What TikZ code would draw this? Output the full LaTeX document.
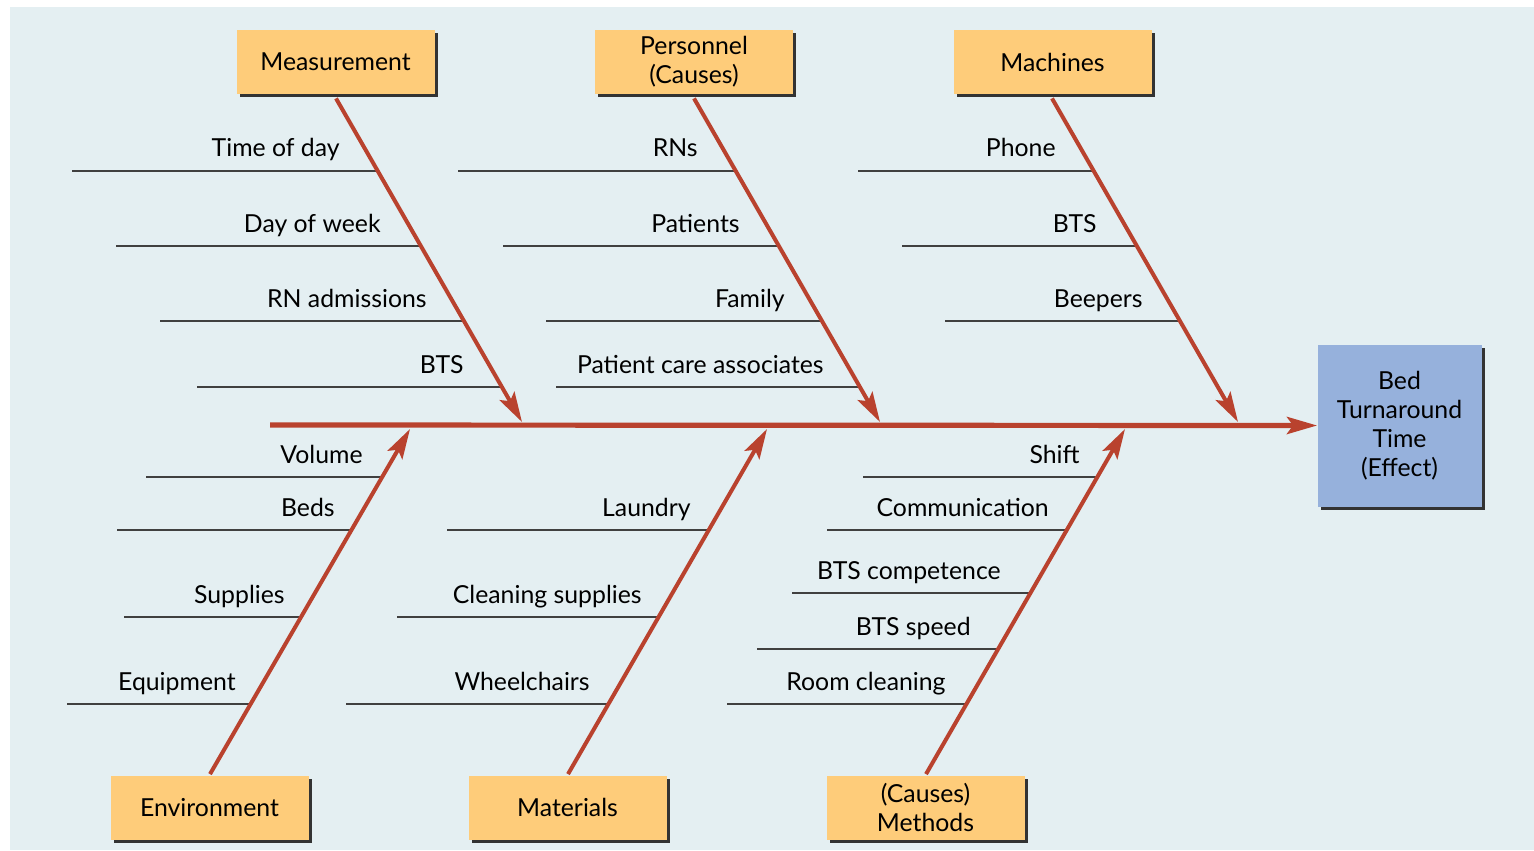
\documentclass[tikz,border=0pt]{standalone}
\usepackage{fontspec}
\setmainfont{Lato}
\usepackage{tikz}
\usetikzlibrary{arrows.meta,shadows,calc}
\definecolor{bgblue}{RGB}{228,239,242}
\definecolor{causefill}{RGB}{254,204,122}
\definecolor{effectfill}{RGB}{150,177,220}
\definecolor{bonered}{RGB}{185,66,46}
\tikzset{ % boxes, bones and twigs
    cause/.style={rectangle, fill=causefill, align=center, minimum width=99pt, minimum height=32pt, inner sep=0pt, font=\fontsize{12.4}{14.5}\selectfont, general shadow={fill=black!80, shadow xshift=1.5pt, shadow yshift=-1.5pt}},
    effect/.style={cause, fill=effectfill, minimum width=82pt, minimum height=81pt},
    bone/.style={draw=bonered, line width=2pt, -{Stealth[length=15pt,width=8.5pt,inset=3pt]}},
    spine/.style={bone, line width=2.6pt},
    twig/.style={draw=black!75, line width=0.7pt},
    lbl/.style={anchor=base east, inner sep=0pt, font=\fontsize{12.4}{14}\selectfont}
}
\begin{document}
\begin{tikzpicture}[x=0.5pt, y=-0.5pt]
	\useasboundingbox (0,0) rectangle (1534,850);
	\fill[bgblue] (10,7) rectangle (1534,850);
	%Twigs
	\foreach \nm/\y/\xa/\xb/\xt/\txt in {
		m1/171/72/378/340/Time of day,
		m2/246/116/421/381/Day of week,
		m3/321/160/464/427/RN admissions,
		m4/387/197/502/464/BTS,
		p1/171/458/736/698/RNs,
		p2/246/503/779/740/Patients,
		p3/321/546/822/785/Family,
		p4/387/556/860/824/Patient care associates,
		c1/171/858/1094/1056/Phone,
		c2/246/902/1137/1097/BTS,
		c3/321/945/1180/1143/Beepers,
		e1/477/146/383/363/Volume,
		e2/530/117/352/335/Beds,
		e3/617/124/302/285/Supplies,
		e4/704/67/251/236/Equipment,
		a1/530/447/709/691/Laundry,
		a2/617/397/659/642/Cleaning supplies,
		a3/704/346/608/590/Wheelchairs,
		d1/477/863/1098/1080/Shift,
		d2/530/827/1067/1049/Communication,
		d3/593/792/1031/1001/BTS competence,
		d4/649/757/998/971/BTS speed,
		d5/704/727/966/946/Room cleaning}
	{
		\coordinate (\nm a) at (\xa,\y);
		\coordinate (\nm b) at (\xb,\y);
		\draw[twig] (\nm a) -- (\nm b);
		\node[lbl] (\nm) at (\xt,\y-14) {\txt};
	}
	%Nodes
	\node[cause] (meas) at (335.5,62) {Measurement};
	\node[cause] (pers) at (694,62) {Personnel\\(Causes)};
	\node[cause] (mach) at (1052.5,62) {Machines};
	\node[cause] (envi) at (209.5,807.5) {Environment};
	\node[cause] (matl) at (567.5,807.5) {Materials};
	\node[cause] (meth) at (925.5,807.5) {(Causes)\\Methods};
	\node[effect] (bedt) at (1399.5,425.5) {Bed\\Turnaround\\Time\\(Effect)};
	%Bones
	\coordinate (tail) at (270,425);
	\coordinate (tm) at (522,422);
	\coordinate (tp) at (880,422);
	\coordinate (tc) at (1238,422);
	\coordinate (te) at (410,429);
	\coordinate (ta) at (767,429);
	\coordinate (td) at (1125,429);
	\draw[spine] (tail) -- (bedt.west);
	\draw[bone] (meas.south) ++(0.5,4) -- (tm);
	\draw[bone] (pers.south) ++(0,4) -- (tp);
	\draw[bone] (mach.south) ++(-0.5,4) -- (tc);
	\draw[bone] (envi.north) ++(0.5,-1) -- (te);
	\draw[bone] (matl.north) ++(0.5,-1) -- (ta);
	\draw[bone] (meth.north) ++(0.5,-1) -- (td);
\end{tikzpicture}
\end{document}
